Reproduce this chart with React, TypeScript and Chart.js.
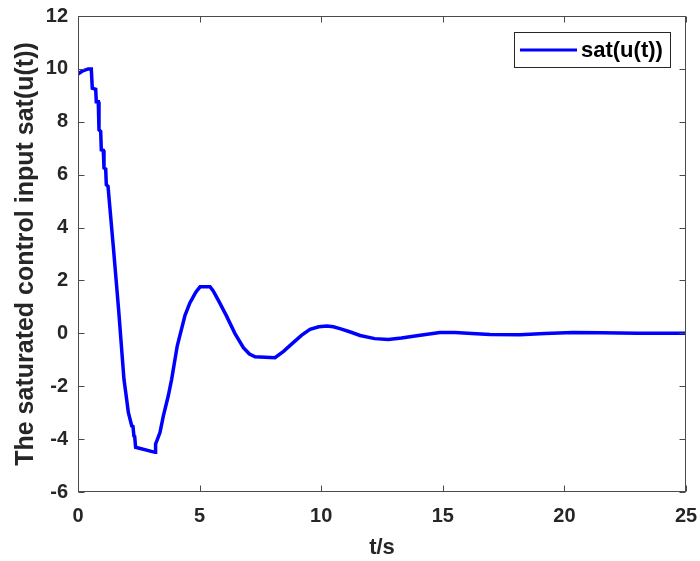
import React, { useEffect, useRef } from "react";
import { Chart, registerables } from "chart.js";

Chart.register(...registerables);

const seriesLabel = "sat(u(t))";
const xTitle = "t/s";
const yTitle = "The saturated control input sat(u(t))";

const tValues = [
  0, 0.2, 0.42, 0.547, 0.587, 0.728, 0.752, 0.834, 0.863, 0.933, 0.958, 1.04, 1.069, 1.139, 1.164, 1.234,
  1.45, 1.67, 1.89, 2.0, 2.07, 2.21, 2.26, 2.3, 2.33, 2.37, 3.17, 3.19, 3.37, 3.51, 3.71, 3.85,
  4.08, 4.4, 4.6, 4.81, 4.88, 5.02, 5.43, 5.56, 5.8, 6.11, 6.45, 6.8, 7.05, 7.28, 8.1, 8.45,
  8.85, 9.2, 9.54, 9.9, 10.23, 10.5, 10.77, 11.2, 11.6, 12.2, 12.76, 13.3, 14.0, 14.88, 15.5, 16.2,
  16.94, 18.17, 19.2, 20.35, 21.5, 23, 25,
];
const uValues = [
  9.81, 9.93, 10.0, 10.0, 9.27, 9.23, 8.76, 8.76, 7.7, 7.63, 6.94, 6.92, 6.25, 6.21, 5.62, 5.56,
  3.3, 0.9, -1.74, -2.49, -2.99, -3.5, -3.52, -3.88, -3.9, -4.31, -4.5, -4.19, -3.75, -3.12, -2.37, -1.74,
  -0.48, 0.68, 1.15, 1.5, 1.6, 1.76, 1.76, 1.6, 1.2, 0.65, 0.0, -0.54, -0.78, -0.89, -0.92, -0.68,
  -0.35, -0.07, 0.15, 0.25, 0.28, 0.25, 0.18, 0.05, -0.08, -0.2, -0.23, -0.18, -0.08, 0.03, 0.03, -0.01,
  -0.04, -0.05, -0.01, 0.03, 0.02, 0.0, 0.0,
];

const xMin = 0, xMax = 25, xStep = 5;
const yMin = -6, yMax = 12, yStep = 2;

const FONT = "'Liberation Sans', Arial, Helvetica, sans-serif";
const TEXT = "#262626";

const framePlugin = {
  id: "frame",
  afterDraw(chart: any) {
    const { ctx, chartArea: a, scales } = chart;
    ctx.save();
    ctx.strokeStyle = "#4a4a4a";
    ctx.lineWidth = 1;
    const L = Math.round(a.left) + 0.5, R = Math.round(a.right) - 0.5;
    const T = Math.round(a.top) + 0.5, B = Math.round(a.bottom) - 0.5;
    ctx.strokeRect(L, T, R - L, B - T);
    const tl = 6;
    ctx.beginPath();
    scales.x.ticks.forEach((t: any) => {
      const px = Math.round(scales.x.getPixelForValue(t.value)) + 0.5;
      ctx.moveTo(px, B); ctx.lineTo(px, B - tl);
      ctx.moveTo(px, T); ctx.lineTo(px, T + tl);
    });
    scales.y.ticks.forEach((t: any) => {
      const py = Math.round(scales.y.getPixelForValue(t.value)) + 0.5;
      ctx.moveTo(L, py); ctx.lineTo(L + tl, py);
      ctx.moveTo(R, py); ctx.lineTo(R - tl, py);
    });
    ctx.stroke();

    // legend box
    const ds = chart.data.datasets[0];
    const bx = 514.5, by = 32.5, bw = 156, bh = 35;
    ctx.fillStyle = "#ffffff";
    ctx.fillRect(bx, by, bw, bh);
    ctx.strokeStyle = "#262626";
    ctx.strokeRect(bx, by, bw, bh);
    ctx.beginPath();
    ctx.strokeStyle = ds.borderColor;
    ctx.lineWidth = 3;
    ctx.moveTo(520, 50);
    ctx.lineTo(577, 50);
    ctx.stroke();
    ctx.fillStyle = "#000000";
    ctx.font = `bold 22px ${FONT}`;
    ctx.textBaseline = "middle";
    ctx.textAlign = "left";
    ctx.fillText(ds.label, 581, 51);
    ctx.restore();
  },
};

const zeroPad = (s: any) => {
  s.paddingLeft = 0;
  s.paddingRight = 0;
  s.paddingTop = 0;
  s.paddingBottom = 0;
};

export default function App() {
  const ref = useRef<HTMLCanvasElement | null>(null);
  useEffect(() => {
    if (!ref.current) return;
    const data = tValues.map((t, i) => ({ x: t, y: uValues[i] }));
    const chart = new Chart(ref.current, {
      type: "line",
      data: {
        datasets: [
          {
            label: seriesLabel,
            data,
            borderColor: "#0000ff",
            borderWidth: 3.5,
            pointRadius: 0,
            tension: 0,
            fill: false,
          },
        ],
      },
      options: {
        animation: false,
        responsive: false,
        layout: { padding: { top: 16, right: 14, left: 0, bottom: 0 } },
        plugins: { legend: { display: false }, tooltip: { enabled: false } },
        scales: {
          x: {
            type: "linear",
            min: xMin,
            max: xMax,
            grid: { display: false, drawTicks: false },
            border: { display: false },
            ticks: {
              stepSize: xStep,
              padding: 12,
              color: TEXT,
              font: { family: FONT, size: 20, weight: "bold" },
              maxRotation: 0,
            },
            title: {
              display: true,
              text: xTitle,
              color: TEXT,
              font: { family: FONT, size: 22, weight: "bold" },
              padding: { top: 0, bottom: 0 },
            },
            afterFit: (s: any) => { s.height = 69; zeroPad(s); },
          },
          y: {
            type: "linear",
            min: yMin,
            max: yMax,
            grid: { display: false, drawTicks: false },
            border: { display: false },
            ticks: {
              stepSize: yStep,
              padding: 10,
              color: TEXT,
              font: { family: FONT, size: 20, weight: "bold" },
            },
            title: {
              display: true,
              text: yTitle,
              color: TEXT,
              font: { family: FONT, size: 25, weight: "bold" },
              padding: { top: 11, bottom: 0 },
            },
            afterFit: (s: any) => { s.width = 78; zeroPad(s); },
          },
        },
      },
      plugins: [framePlugin],
    });
    return () => chart.destroy();
  }, []);
  return (
    <div style={{ position: "absolute", left: 0, top: 0, width: 700, height: 561, background: "#fff" }}>
      <canvas ref={ref} width={700} height={561} />
    </div>
  );
}
